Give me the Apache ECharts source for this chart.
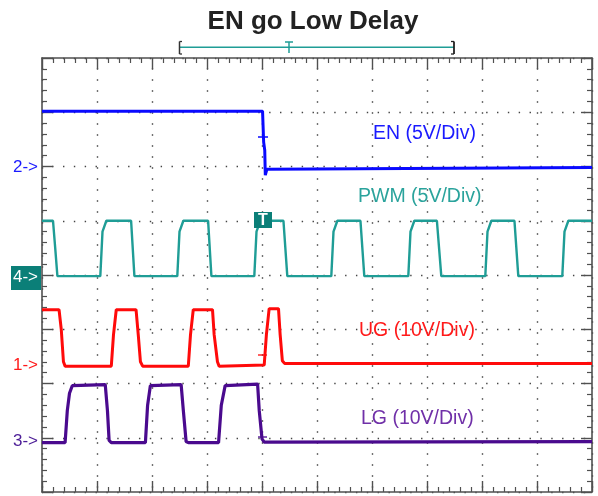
<!DOCTYPE html>
<html>
<head>
<meta charset="utf-8">
<script src="https://cdn.jsdelivr.net/npm/echarts@6/dist/echarts.min.js"></script>
<style>
html,body{margin:0;padding:0;background:#fff;}
#chart{width:598px;height:496px;}
</style>
</head>
<body>
<div id="chart"></div>
<script>
// time in divisions (10 div across), level in divisions (8 div high, 0 = bottom)
var enTrace = [[0,7.02],[4.01,7.02],[4.03,6.45],[4.05,6.3],[4.06,5.84],[4.09,5.95],[4.11,5.98],[10,5.98]];

var pwmTrace = [[0,5.0],[0.2,5.0],[0.24,4.5],[0.28,3.98],[1.06,3.98],[1.1,4.8],[1.17,5.0],
  [1.62,5.0],[1.68,3.98],[2.46,3.98],[2.5,4.8],[2.57,5.0],
  [3.02,5.0],[3.08,3.98],[3.86,3.98],[3.9,4.8],[3.97,5.0],
  [4.39,5.0],[4.46,3.98],[5.26,3.98],[5.3,4.8],[5.37,5.0],
  [5.79,5.0],[5.86,3.98],[6.66,3.98],[6.7,4.8],[6.77,5.0],
  [7.18,5.0],[7.26,3.98],[8.06,3.98],[8.1,4.8],[8.17,5.0],
  [8.59,5.0],[8.66,3.98],[9.46,3.98],[9.5,4.8],[9.57,5.0],[10,5.0]];

var ugTrace = [[0,3.36],[0.31,3.36],[0.35,3.0],[0.39,2.4],[0.42,2.32],
  [1.26,2.32],[1.3,2.9],[1.35,3.36],[1.71,3.36],[1.75,2.9],[1.79,2.4],[1.83,2.32],
  [2.66,2.32],[2.7,2.9],[2.75,3.36],[3.1,3.36],[3.13,2.9],[3.19,2.4],[3.22,2.32],
  [4.04,2.34],[4.08,2.9],[4.13,3.38],[4.3,3.38],[4.33,2.9],[4.37,2.42],[4.41,2.37],[10,2.37]];

var lgTrace = [[0,0.91],[0.42,0.91],[0.46,1.5],[0.5,1.82],[0.55,1.96],
  [1.15,1.98],[1.19,1.5],[1.22,0.95],[1.26,0.91],
  [1.88,0.91],[1.92,1.6],[1.97,1.96],[2.53,1.98],[2.57,1.5],[2.62,0.93],[2.66,0.91],
  [3.21,0.91],[3.26,1.6],[3.33,1.96],[3.92,1.99],[3.95,1.5],[4.0,0.98],[4.04,0.92],[10,0.93]];

var traceNames = ['EN (5V/Div)','PWM (5V/Div)','UG (10V/Div)','LG (10V/Div)'];
var markerNames = ['2->','4->','1->','3->'];

var FONT = "'Liberation Sans', Arial, sans-serif";
var frame = '#505050';
var teal = '#1f9d96';

function axisX(pos, grid) {
  return {
    type:'value', min:0, max:10, interval:1, position:pos,
    axisLine:{show:true, onZero:false, lineStyle:{color:frame, width:1.6}},
    axisTick:{show:true, inside:true, length:11, lineStyle:{color:frame, width:1.4}},
    minorTick:{show:true, splitNumber:5, length:5, lineStyle:{color:frame, width:1.2}},
    axisLabel:{show:false},
    splitLine:{show:grid, lineStyle:{color:'#444', width:1.4, type:[1.4,9.6], dashOffset:0.7}}
  };
}
function axisY(pos, grid) {
  return {
    type:'value', min:0, max:8, interval:1, position:pos,
    axisLine:{show:true, onZero:false, lineStyle:{color:frame, width:1.6}},
    axisTick:{show:true, inside:true, length:11, lineStyle:{color:frame, width:1.4}},
    minorTick:{show:true, splitNumber:5, length:5, lineStyle:{color:frame, width:1.2}},
    axisLabel:{show:false},
    splitLine:{show:grid, lineStyle:{color:'#444', width:1.4, type:[1.4,9.45], dashOffset:0.7}}
  };
}
function trace(data, color, w) {
  return {type:'line', data:data, showSymbol:false, symbol:'none', animation:false,
    lineStyle:{color:color, width:w}, z:3};
}
function txt(x, y, s, color, size, extra) {
  var st = {text:s, x:x, y:y, fill:color, font:'normal ' + size + 'px ' + FONT, verticalAlign:'middle'};
  if (extra) for (var k in extra) st[k] = extra[k];
  return {type:'text', z:10, style:st};
}
function seg(x1, y1, x2, y2, color, w) {
  return {type:'line', z:10, shape:{x1:x1,y1:y1,x2:x2,y2:y2}, style:{stroke:color, lineWidth:w}};
}

var chart = echarts.init(document.getElementById('chart'));
chart.setOption({
  backgroundColor:'#fff',
  animation:false,
  grid:{left:42, top:58, width:550, height:434},
  xAxis:[axisX('bottom', true), axisX('top', false)],
  yAxis:[axisY('left', true), axisY('right', false)],
  series:[
    trace(enTrace, '#0a0aff', 3),
    trace(pwmTrace, teal, 2.4),
    trace(ugTrace, '#ff0a0a', 3),
    trace(lgTrace, '#4a0a8e', 3.2)
  ],
  graphic:[
    txt(313, 22, 'EN go Low Delay', '#222', 26, {align:'center', font:'bold 26px ' + FONT}),
    // time bracket
    seg(179, 47.3, 454, 47.3, teal, 1.6),
    seg(179.5, 41.5, 179.5, 54, '#333', 1.5),
    seg(179.5, 41.5, 182, 41.5, '#333', 1.3),
    seg(179.5, 54, 182, 54, '#333', 1.3),
    seg(454, 41.5, 454, 54, '#222', 1.8),
    seg(451, 41.5, 454, 41.5, '#222', 1.3),
    seg(451, 54, 454, 54, '#222', 1.3),
    seg(285, 42, 293, 42, teal, 1.5),
    seg(289, 42, 289, 53, teal, 1.5),
    // trigger marks
    seg(258, 137, 268, 137, '#0a0aff', 1.5),
    seg(258, 355, 267, 355, '#ff0a0a', 1.3),
    seg(258, 437, 267, 437, '#4a0a8e', 1.3),
    {type:'rect', z:10, shape:{x:254, y:212, width:18, height:16}, style:{fill:'#0b7f78'}},
    txt(263, 220.5, 'T', '#fff', 16, {align:'center', font:'bold 16px ' + FONT}),
    // channel markers
    txt(13, 167, markerNames[0], '#1a1aff', 17),
    {type:'rect', z:10, shape:{x:11, y:266, width:30, height:24}, style:{fill:'#0b7f78'}},
    txt(13, 277, markerNames[1], '#fff', 17),
    txt(13, 365, markerNames[2], '#ff1a1a', 17),
    txt(13, 441, markerNames[3], '#4b1c96', 17),
    // trace labels
    txt(373, 134, traceNames[0], '#1a1aff', 19.5),
    txt(358, 197, traceNames[1], '#2aa39c', 19.5),
    txt(359, 331, traceNames[2], '#ff1a1a', 19.5),
    txt(361, 419, traceNames[3], '#7030a8', 19.5)
  ]
});
</script>
</body>
</html>
